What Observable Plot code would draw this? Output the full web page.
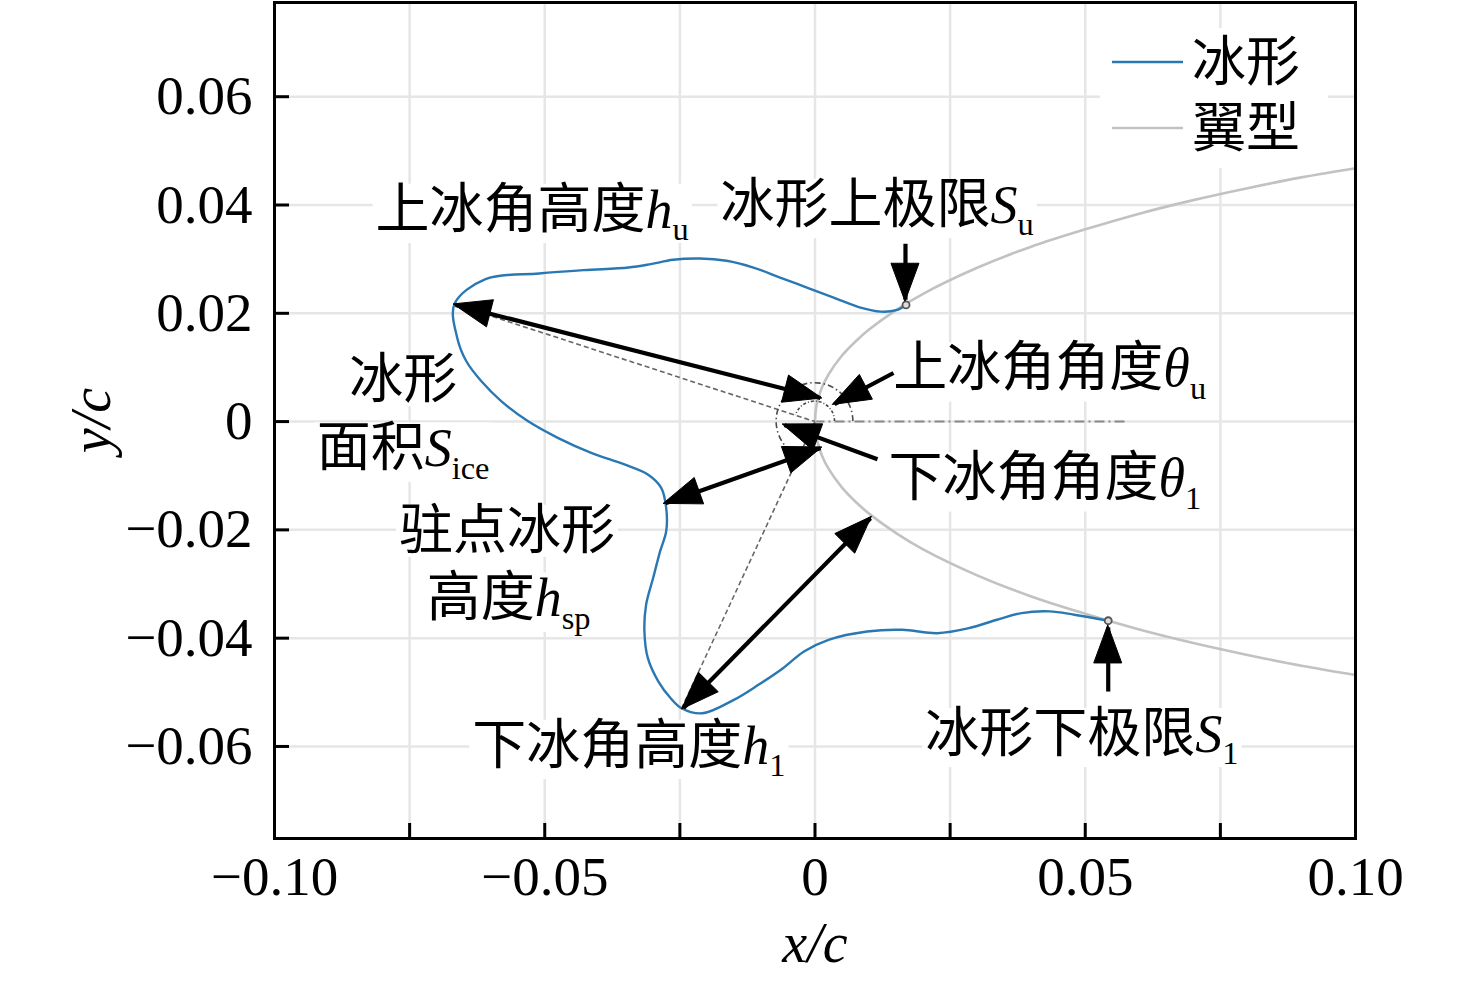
<!DOCTYPE html>
<html><head><meta charset="utf-8">
<script src="https://cdn.jsdelivr.net/npm/d3@7"></script>
<script src="https://cdn.jsdelivr.net/npm/@observablehq/plot@0.6"></script>
<style>html,body{margin:0;padding:0;background:#fff}</style>
</head><body><div id="chart"></div>
<script>
const FONT = "'Liberation Serif','Times New Roman','Noto Sans CJK SC',serif";
const ICE_COLOR = "#2a78b3";
const AIRFOIL_COLOR = "#c2c2c2";

// axes
const xTickVals = [-0.1, -0.05, 0, 0.05, 0.1];
const xTickLabels = ["−0.10", "−0.05", "0", "0.05", "0.10"];
const xMinorVals = [-0.075, -0.05, -0.025, 0, 0.025, 0.05, 0.075];
const xGridVals = [-0.075, -0.05, -0.025, 0, 0.025, 0.05, 0.075];
const yTickVals = [-0.06, -0.04, -0.02, 0, 0.02, 0.04, 0.06];
const yTickLabels = ["−0.06", "−0.04", "−0.02", "0", "0.02", "0.04", "0.06"];

// airfoil (翼型)
const airfoilX = [0.1,0.09,0.08,0.07,0.06,0.05,0.04,0.03,0.02,0.015,0.01,0.0075,0.005,0.0025,0.00125,0.0005,0.0002,0,
                  0.0002,0.0005,0.00125,0.0025,0.005,0.0075,0.01,0.015,0.02,0.03,0.04,0.05,0.06,0.07,0.08,0.09,0.1];
const airfoilY = [0.0468,0.0451,0.0431,0.0409,0.0384,0.0355,0.0323,0.0284,0.0236,0.0206,0.0170,0.0148,0.0122,0.0087,0.0062,0.0039,0.0025,0,
                  -0.0025,-0.0039,-0.0062,-0.0087,-0.0122,-0.0148,-0.0170,-0.0206,-0.0236,-0.0284,-0.0323,-0.0355,-0.0384,-0.0409,-0.0431,-0.0451,-0.0468];

// ice shape (冰形)
const iceX = [0.01684,0.01502,0.01214,0.00842,0.00346,-0.00150,-0.00646,-0.01140,-0.01636,-0.02131,-0.02627,-0.03040,-0.03452,-0.04279,-0.05105,-0.06096,-0.06670,
              -0.06620,-0.06453,-0.06176,-0.05806,-0.05314,-0.04759,-0.04141,-0.03525,-0.03093,-0.02845,-0.02753,-0.02753,-0.02866,-0.02995,-0.03125,-0.03156,-0.03092,-0.02897,-0.02670,-0.02470,
              -0.02085,-0.01502,-0.01047,-0.00592,-0.00204,0.00250,0.00966,0.01615,0.02263,0.02847,0.03367,0.03821,0.04339,0.04795,0.05425];
const iceY = [0.02155,0.02057,0.02031,0.02105,0.02290,0.02475,0.02660,0.02845,0.02970,0.03012,0.02988,0.02908,0.02845,0.02797,0.02735,0.02631,0.02174,
              0.01550,0.01119,0.00749,0.00379,0.00009,-0.00300,-0.00577,-0.00792,-0.00977,-0.01225,-0.01595,-0.02026,-0.02396,-0.02890,-0.03382,-0.03876,-0.04370,-0.04801,-0.05110,-0.05295,
              -0.05388,-0.05140,-0.04862,-0.04555,-0.04246,-0.04030,-0.03876,-0.03845,-0.03908,-0.03815,-0.03660,-0.03537,-0.03506,-0.03567,-0.03678];

// ice limits S_u, S_l
const limitX = [0.01684, 0.05425];
const limitY = [0.02155, -0.03678];

// horn tips (for dashed guide lines to the leading edge)
const hornX = [-0.0667, -0.0247];
const hornY = [0.0217, -0.0530];

// chord line
const chordX = [0, 0.058];

// angle arcs (radius in x/c units, degrees)
const arcR = [0.0037, 0.0071];
const arcStart = [0, 0];
const arcEnd = [162, 245];

// arrows
const arrowX1 = [-0.0665, 0.01452, 0.01156, -0.02766, -0.02433, 0.01674, 0.05425];
const arrowY1 = [0.02155, 0.00897, -0.00694, -0.01508, -0.05291, 0.03284, -0.04986];
const arrowX2 = [0.0010, 0.00361, -0.00564, 0.00102, 0.01027, 0.01674, 0.05425];
const arrowY2 = [0.00435, 0.00324, -0.00065, -0.00490, -0.01785, 0.02250, -0.03802];
const arrowBoth = [true, false, false, true, true, false, false];

// annotation texts: {italic}_subscript
const annoLabels = ["上冰角高度{h}_u","冰形上极限{S}_u","冰形","面积{S}_ice","上冰角角度{θ}_u","下冰角角度{θ}_1","驻点冰形","高度{h}_sp","下冰角高度{h}_1","冰形下极限{S}_1"];
const annoX = [-0.0813,-0.0175,-0.0762,-0.0762,0.0145,0.0136,-0.0570,-0.0567,-0.0634,0.0204];
const annoY = [0.0390,0.0399,0.0075,-0.0051,0.0097,-0.0106,-0.0203,-0.0328,-0.0600,-0.0578];
const annoAlign = ["start","start","middle","middle","start","start","middle","middle","start","start"];

// legend
const legendLabels = ["冰形", "翼型"];
const legendColors = [ICE_COLOR, AIRFOIL_COLOR];

// ---- build tables
const airfoil = airfoilX.map((x, i) => ({x, y: airfoilY[i]}));
const ice = iceX.map((x, i) => ({x, y: iceY[i]}));
const limits = limitX.map((x, i) => ({x, y: limitY[i]}));
const guides = hornX.map((x, i) => ({x1: x, y1: hornY[i], x2: 0, y2: 0}));
const arrows = arrowX1.map((x1, i) => ({x1, y1: arrowY1[i], x2: arrowX2[i], y2: arrowY2[i], both: arrowBoth[i]}));
const annos = annoLabels.map((label, i) => ({label, x: annoX[i], y: annoY[i], align: annoAlign[i]}));
const xFmt = new Map(xTickVals.map((v, i) => [v, xTickLabels[i]]));
const yFmt = new Map(yTickVals.map((v, i) => [v, yTickLabels[i]]));

const plot = Plot.plot({
  width: 1476, height: 982,
  marginLeft: 274, marginRight: 121, marginTop: 2, marginBottom: 144,
  x: {domain: [-0.1, 0.1]},
  y: {domain: [-0.077, 0.0774]},
  style: {fontFamily: FONT, fontSize: "54px", color: "black", background: "white", overflow: "visible"},
  marks: [
    Plot.gridX(xGridVals, {stroke: "#e6e6e6", strokeOpacity: 1, strokeWidth: 2.5}),
    Plot.gridY(yTickVals, {stroke: "#e6e6e6", strokeOpacity: 1, strokeWidth: 2.5}),
    Plot.text(annos.filter(d => d.align === "start"), {x: "x", y: "y", text: "label", textAnchor: "start", fontSize: 54, fill: "black"}),
    Plot.text(annos.filter(d => d.align === "middle"), {x: "x", y: "y", text: "label", textAnchor: "middle", fontSize: 54, fill: "black"}),
    Plot.ruleY([0], {x1: chordX[0], x2: chordX[1], stroke: "#8a8a8a", strokeWidth: 2, strokeDasharray: "10,4,2,4"}),
    Plot.line(airfoil, {x: "x", y: "y", stroke: AIRFOIL_COLOR, strokeWidth: 2.6, curve: "catmull-rom"}),
    Plot.line(ice, {x: "x", y: "y", stroke: ICE_COLOR, strokeWidth: 2.4, curve: "catmull-rom"}),
    Plot.link(guides, {x1: "x1", y1: "y1", x2: "x2", y2: "y2", stroke: "#666", strokeWidth: 1.6, strokeDasharray: "5,3"}),
    Plot.link(arrows, {x1: "x1", y1: "y1", x2: "x2", y2: "y2", stroke: "black", strokeWidth: 4.2}),
    Plot.dot(limits, {x: "x", y: "y", r: 3.5, stroke: "#555", strokeWidth: 1.8, fill: "#ddd"}),
    Plot.frame({stroke: "black", strokeWidth: 3}),
    Plot.axisX(xMinorVals, {anchor: "bottom", tickSize: -15, strokeWidth: 3, tickFormat: () => "", label: null}),
    Plot.axisX(xTickVals, {anchor: "bottom", tickSize: 0, tickPadding: 17, tickFormat: d => xFmt.get(d), fontSize: 55, label: null}),
    Plot.axisY(yTickVals, {anchor: "left", tickSize: -15, strokeWidth: 3, tickFormat: () => "", label: null}),
    Plot.axisY(yTickVals, {anchor: "left", tickSize: 0, tickPadding: 22, tickFormat: d => yFmt.get(d), fontSize: 55, label: null}),
    Plot.text(["x/c"], {text: d => d, frameAnchor: "bottom", dy: 106, textAnchor: "middle", lineAnchor: "middle", fontStyle: "italic", fontSize: 56}),
    Plot.text(["y/c"], {text: d => d, frameAnchor: "left", dx: -182, rotate: -90, textAnchor: "middle", lineAnchor: "middle", fontStyle: "italic", fontSize: 56})
  ]
});
document.getElementById("chart").append(plot);

// ---- scales from the plot
function getScale(name) {
  const s = plot.scale(name);
  if (s && typeof s.apply === "function") return v => s.apply(v);
  const lin = d3.scaleLinear(s.domain, s.range);
  return v => lin(v);
}
const fx = getScale("x"), fy = getScale("y");
const svg = d3.select(plot);

// ---- rich annotation text (italic variable + subscript) and white boxes
const annoSet = new Set(annoLabels);
svg.selectAll("text").each(function () {
  const s = this.textContent;
  if (!annoSet.has(s)) return;
  const m = /^(.*)\{(.+)\}_(.+)$/.exec(s);
  const el = d3.select(this);
  if (m) {
    this.textContent = "";
    el.append("tspan").text(m[1]);
    el.append("tspan").attr("font-style", "italic").text(m[2]);
    el.append("tspan").attr("font-size", "0.6em").attr("dy", "0.38em").text(m[3]);
  }
  const b = this.getBBox();
  const r = document.createElementNS("http://www.w3.org/2000/svg", "rect");
  r.setAttribute("x", b.x - 3); r.setAttribute("y", b.y + 4);
  r.setAttribute("width", b.width + 6); r.setAttribute("height", b.height - 8);
  r.setAttribute("fill", "white");
  const t = this.getAttribute("transform");
  if (t) r.setAttribute("transform", t);
  this.parentNode.insertBefore(r, this);
});

// ---- angle arcs at the leading edge
const cx = fx(0), cy = fy(0);
const arcG = svg.append("g").attr("fill", "none").attr("stroke", "#4a4a4a").attr("stroke-width", 1.6);
arcR.forEach((rv, i) => {
  const r = fx(rv) - fx(0);
  const a0 = arcStart[i] * Math.PI / 180, a1 = arcEnd[i] * Math.PI / 180;
  const p0 = [cx + r * Math.cos(a0), cy - r * Math.sin(a0)];
  const p1 = [cx + r * Math.cos(a1), cy - r * Math.sin(a1)];
  const large = (arcEnd[i] - arcStart[i]) > 180 ? 1 : 0;
  arcG.append("path")
    .attr("d", `M${p0[0]},${p0[1]}A${r},${r} 0 ${large} 0 ${p1[0]},${p1[1]}`)
    .attr("stroke-dasharray", i === 0 ? "3,2,1,2" : "6,3,1.5,3");
});

// ---- filled arrow heads
function headPoints(tx, ty, fx0, fy0) {
  const L = 36, W = 14;
  const dx = tx - fx0, dy = ty - fy0, len = Math.hypot(dx, dy);
  const ux = dx / len, uy = dy / len;
  const bx = tx - ux * L, by = ty - uy * L;
  return `${tx + ux * 2},${ty + uy * 2} ${bx - uy * W},${by + ux * W} ${bx + uy * W},${by - ux * W}`;
}
const headG = svg.append("g").attr("fill", "black").attr("stroke", "black").attr("stroke-width", 1).attr("stroke-linejoin", "miter");
arrows.forEach(a => {
  const X1 = fx(a.x1), Y1 = fy(a.y1), X2 = fx(a.x2), Y2 = fy(a.y2);
  headG.append("polygon").attr("points", headPoints(X2, Y2, X1, Y1));
  if (a.both) headG.append("polygon").attr("points", headPoints(X1, Y1, X2, Y2));
});

// ---- legend (top right, inside the frame)
const R = fx(0.1), T = fy(0.0774);
const lg = svg.append("g");
lg.append("rect").attr("x", R - 255).attr("y", T + 26).attr("width", 228).attr("height", 140).attr("fill", "white");
legendLabels.forEach((lab, i) => {
  const yy = T + 60 + i * 66;
  lg.append("line").attr("x1", R - 243).attr("x2", R - 172).attr("y1", yy).attr("y2", yy)
    .attr("stroke", legendColors[i]).attr("stroke-width", 2.5);
  lg.append("text").attr("x", R - 163).attr("y", yy).attr("dy", "0.36em").attr("text-anchor", "start")
    .attr("font-size", 54).attr("font-family", FONT).attr("fill", "black").text(lab);
});
</script></body></html>
